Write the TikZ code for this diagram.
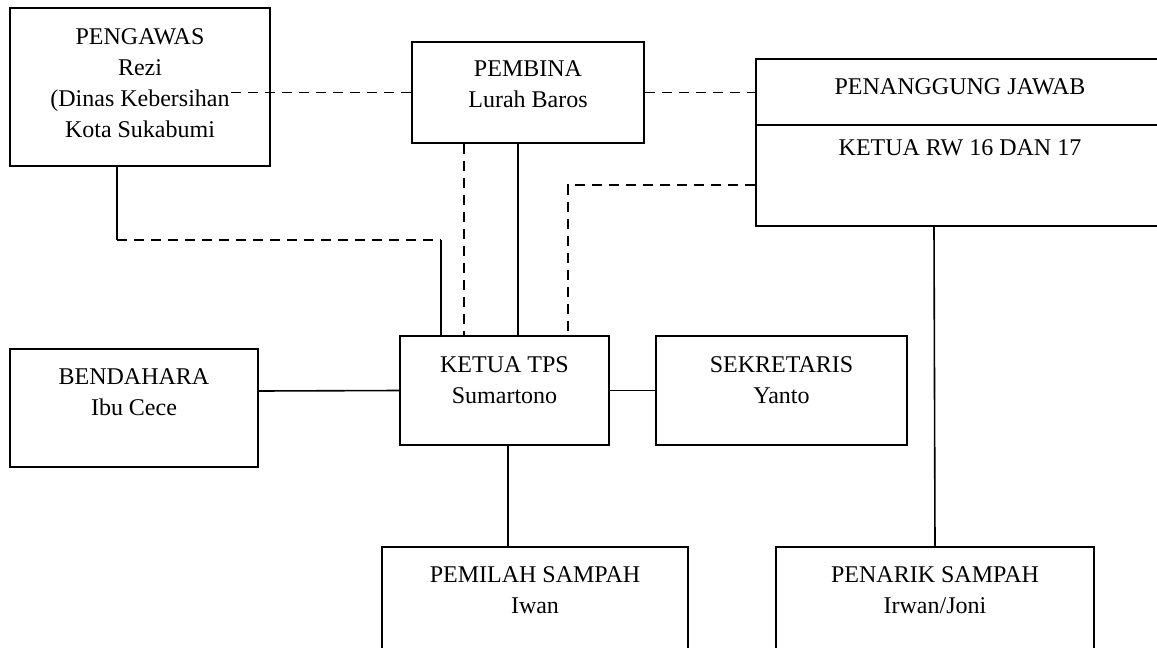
\documentclass[tikz,border=0pt]{standalone}
\usepackage{fontspec}
\setmainfont{Liberation Serif}
\usetikzlibrary{positioning}

\begin{document}
\begin{tikzpicture}[x=1pt,y=-1pt,
  box/.style={draw=black, line width=1.6pt, inner sep=0pt},
  txt/.style={inner sep=0pt, align=center, font=\fontsize{24}{31}\selectfont},
  solidline/.style={black, line width=1.6pt},
  dashline/.style={black, line width=1.6pt, dash pattern=on 10pt off 7pt}]
\useasboundingbox (0,0) rectangle (1157,648);
\clip (0,0) rectangle (1157,648);
%boxes
\node[box, minimum width=260pt, minimum height=158pt] (pengawas) at (140,87) {};
\node[box, minimum width=232pt, minimum height=101pt] (pembina) at (528,92.5) {};
\node[box, minimum width=408pt, minimum height=167pt] (pj) at (960,142.5) {};
\node[box, minimum width=248pt, minimum height=118pt] (bendahara) at (134,408) {};
\node[box, minimum width=209pt, minimum height=109pt] (ketua) at (504.5,390.5) {};
\node[box, minimum width=251pt, minimum height=109pt] (sekretaris) at (781.5,390.5) {};
\node[box, minimum width=306pt, minimum height=113pt] (pemilah) at (535,603.5) {};
\node[box, minimum width=318pt, minimum height=113pt] (penarik) at (935,603.5) {};
\draw[solidline] (pj.west |- 0,125) -- (pj.east |- 0,125);

%texts
\node[txt, below=21pt of pengawas.north] (pengawastxt) {PENGAWAS\\Rezi\\(Dinas Kebersihan\\Kota Sukabumi};
\node[txt, below=19pt of pembina.north] (pembinatxt) {PEMBINA\\Lurah Baros};
\node[txt] (pjtop) at (960,87) {PENANGGUNG JAWAB};
\node[txt] (pjbot) at (960,148) {KETUA RW 16 DAN 17};
\node[txt, below=20pt of bendahara.north] (bendaharatxt) {BENDAHARA\\Ibu Cece};
\node[txt, below=21pt of ketua.north] (ketuatxt) {KETUA TPS\\Sumartono};
\node[txt, below=21pt of sekretaris.north] (sekretaristxt) {SEKRETARIS\\Yanto};
\node[txt, below=20pt of pemilah.north] (pemilahtxt) {PEMILAH SAMPAH\\Iwan};
\node[txt, below=20pt of penarik.north] (penariktxt) {PENARIK SAMPAH\\Irwan/Joni};

%dashed lines
\draw[dashline] (pembina.west) -- ++(-185,0);
\draw[dashline] (pembina.east) -- (pembina.east -| pj.west);
\draw[solidline] ([xshift=-23pt]pengawas.south) -- ++(0,73) coordinate (pengawasbend);
\coordinate (ketualeft) at ([xshift=-63.5pt]ketua.north);
\draw[dashline] (pengawasbend) -- (pengawasbend -| ketualeft);
\draw[solidline] (ketualeft) -- (ketualeft |- pengawasbend);
\draw[dashline] ([xshift=-64pt]pembina.south) -- ([xshift=-64pt]pembina.south |- ketua.north);
\draw[solidline] ([xshift=-10pt]pembina.south) -- ([xshift=-10pt]pembina.south |- ketua.north);
\draw[dashline] ([yshift=-42.5pt]pj.west) -| ([xshift=63.5pt]ketua.north);

%solid lines
\draw[solidline] ([yshift=17pt]bendahara.east) -- (ketua.west);
\draw[solidline] (ketua.east) -- (sekretaris.west);
\draw[solidline] ([xshift=3.5pt]ketua.south) -- ([xshift=3.5pt]ketua.south |- pemilah.north);
\draw[solidline] ([xshift=-26pt]pj.south) -- (penarik.north);
\end{tikzpicture}
\end{document}
